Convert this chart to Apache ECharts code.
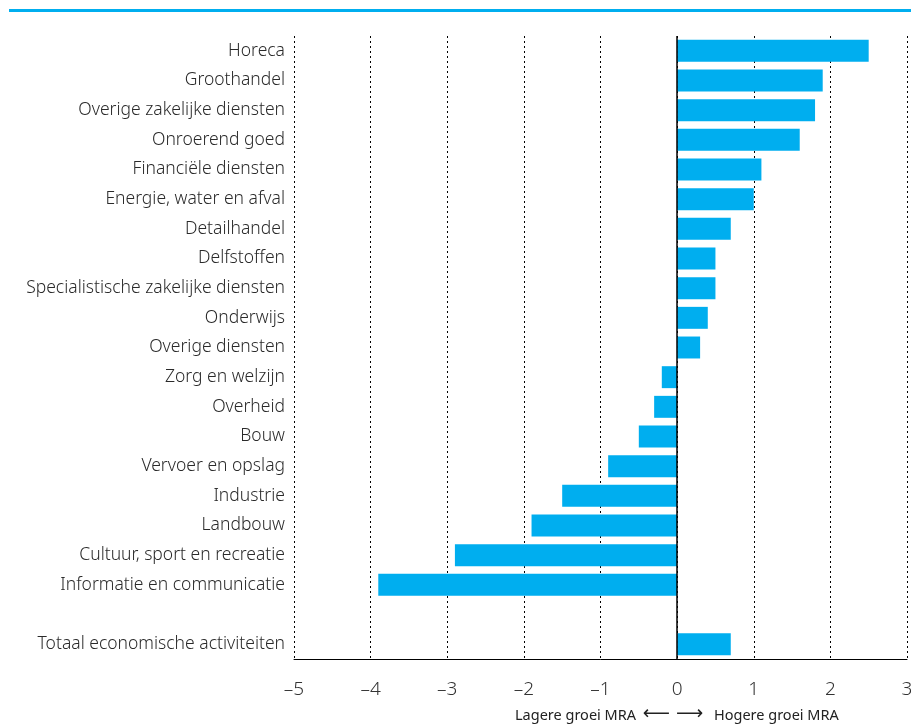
<!DOCTYPE html>
<html>
<head>
<meta charset="UTF-8">
<title>Groei MRA per sector</title>
<script src="https://cdn.jsdelivr.net/npm/echarts@6/dist/echarts.min.js"></script>
<style>
  html, body { margin: 0; padding: 0; background: #fff; }
  #main { width: 911px; height: 725px; }
</style>
</head>
<body>
<div id="main"></div>
<script>
// sectoren, van boven naar beneden
var sectoren = ['Horeca', 'Groothandel', 'Overige zakelijke diensten', 'Onroerend goed',
  'Financiële diensten', 'Energie, water en afval', 'Detailhandel', 'Delfstoffen',
  'Specialistische zakelijke diensten', 'Onderwijs', 'Overige diensten', 'Zorg en welzijn',
  'Overheid', 'Bouw', 'Vervoer en opslag', 'Industrie', 'Landbouw',
  'Cultuur, sport en recreatie', 'Informatie en communicatie', '', 'Totaal economische activiteiten'];
// verschil groei (procentpunt)
var verschil = [2.5, 1.9, 1.8, 1.6, 1.1, 1.0, 0.7, 0.5, 0.5, 0.4, 0.3, -0.2,
  -0.3, -0.5, -0.9, -1.5, -1.9, -2.9, -3.9, '-', 0.7];
var asMin = -5, asMax = 3, asStap = 1;

var myChart = echarts.init(document.getElementById('main'));

var lettertype = '"Noto Sans", sans-serif';

var option = {
  animation: false,
  textStyle: { fontFamily: lettertype },
  grid: { left: 294, right: 4, top: 36, bottom: 66, outerBoundsMode: 'none', containLabel: false },
  xAxis: {
    type: 'value',
    min: asMin,
    max: asMax,
    interval: asStap,
    axisLine: { show: true, lineStyle: { color: '#000', width: 1 } },
    axisTick: { show: false },
    axisLabel: {
      fontSize: 19,
      fontWeight: 300,
      color: '#333',
      margin: 21,
      hideOverlap: false,
      formatter: function (v) { return String(v).replace('-', '\u2013'); }
    },
    splitLine: { show: true, lineStyle: { color: '#000', type: [2, 3], width: 1 } }
  },
  yAxis: {
    type: 'category',
    inverse: true,
    data: sectoren,
    axisLine: { show: false },
    axisTick: { show: false },
    axisLabel: { fontSize: 17.5, fontWeight: 300, color: '#2a2a2a', margin: 9 }
  },
  graphic: [
    { type: 'rect', shape: { x: 9, y: 9, width: 902, height: 3 }, style: { fill: '#00aeef' } },
    {
      type: 'text', x: 636, y: 708,
      style: { text: 'Lagere groei MRA', fontSize: 14.5, fill: '#222', fontFamily: lettertype, align: 'right' }
    },
    {
      type: 'text', x: 673, y: 705,
      style: { text: '\u27F5 \u27F6', fontSize: 19, fill: '#222', fontFamily: '"DejaVu Sans", sans-serif', align: 'center' }
    },
    {
      type: 'text', x: 714, y: 708,
      style: { text: 'Hogere groei MRA', fontSize: 14.5, fill: '#222', fontFamily: lettertype, align: 'left' }
    }
  ],
  series: [{
    type: 'bar',
    data: verschil,
    barCategoryGap: '26%',
    itemStyle: { color: '#00aeef' },
    markLine: {
      silent: true,
      symbol: 'none',
      label: { show: false },
      lineStyle: { color: '#000', type: 'solid', width: 1.5 },
      data: [{ xAxis: 0 }]
    }
  }]
};

myChart.setOption(option);
</script>
</body>
</html>
